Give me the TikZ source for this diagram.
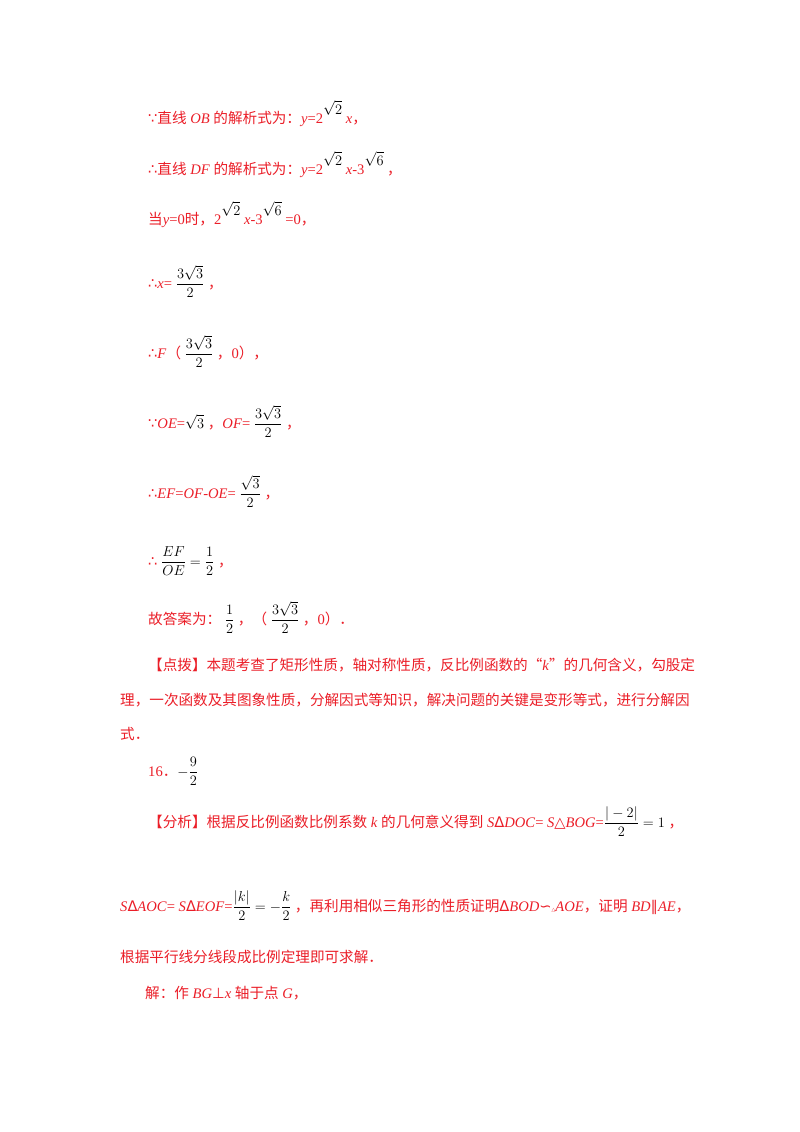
\documentclass[tikz,border=0pt]{standalone}
\usepackage{fontspec}
\setmainfont{Liberation Serif}
\newfontfamily\cjk{Noto Sans CJK SC}
\newfontfamily\djsym{DejaVu Sans}
\definecolor{rd}{RGB}{235,30,40}
\newcommand{\K}[1]{{\cjk #1}}
\newcommand{\Y}[1]{{\djsym #1}}
\newcommand{\B}[1]{\textcolor{black}{$\displaystyle #1$}}
\begin{document}
\begin{tikzpicture}[x=1pt,y=-1pt,t/.style={anchor=base west,inner sep=0,text=rd,font=\fontsize{14.6}{16}\selectfont}]
\useasboundingbox (0,0) rectangle (800,1132);
\fill[white] (0,0) rectangle (800,1132);
\node[t] (l1) at (148,123) {\Y{∵}\K{直线} \textit{OB} \K{的解析式为：}\textit{y}=2\raisebox{9pt}{\B{\sqrt2}} \textit{x}\K{，}};
\node[t] (l2) at (148,174) {\Y{∴}\K{直线} \textit{DF} \K{的解析式为：}\textit{y}=2\raisebox{9pt}{\B{\sqrt2}} \textit{x}-3\raisebox{9pt}{\B{\sqrt6}} \K{，}};
\node[t] (l3) at (148,224) {\K{当}\textit{y}=0\K{时，}2\raisebox{9pt}{\B{\sqrt2}} \textit{x}-3\raisebox{9pt}{\B{\sqrt6}} =0\K{，}};
\node[t] (l4) at (148,288) {\Y{∴}\textit{x}= \B{\frac{3\sqrt3}{2}} \K{，}};
\node[t] (l5) at (148,358) {\Y{∴}\textit{F}\K{（} \B{\frac{3\sqrt3}{2}} \K{，}0\K{），}};
\node[t] (l6) at (148,428) {\Y{∵}\textit{OE}=\B{\sqrt3} \K{，}\textit{OF}= \B{\frac{3\sqrt3}{2}} \K{，}};
\node[t] (l7) at (148,498) {\Y{∴}\textit{EF}=\textit{OF}-\textit{OE}= \B{\frac{\sqrt3}{2}} \K{，}};
\node[t] (l8) at (148,566) {\Y{∴} \B{\frac{EF}{OE}=\frac12} \K{，}};
\node[t] (l9) at (148,624) {\K{故答案为：} \B{\frac12} \K{，（} \B{\frac{3\sqrt3}{2}} \K{，}0\K{）．}};
\node[t] (l10) at (148,670) {\K{【点拨】本题考查了矩形性质，轴对称性质，反比例函数的“}\textit{k}\K{”的几何含义，勾股定}};
\node[t] (l11) at (120,705) {\K{理，一次函数及其图象性质，分解因式等知识，解决问题的关键是变形等式，进行分解因}};
\node[t] (l12) at (120,739) {\K{式．}};
\node[t] (l13) at (148,776) {16\K{．}\B{-\frac92}};
\node[t] (l14) at (148,827) {\K{【分析】根据反比例函数比例系数} \textit{k} \K{的几何意义得到} \textit{S}\Y{Δ}\textit{DOC}= \textit{S}\Y{△}\textit{BOG}=\B{\frac{|-2|}{2}=1} \K{，}};
\node[t] (l15) at (120,911) {\textit{S}\Y{Δ}\textit{AOC}= \textit{S}\Y{Δ}\textit{EOF}=\B{\frac{|k|}{2}=-\frac{k}{2}} \K{，再利用相似三角形的性质证明}\Y{Δ}\textit{BOD}\Y{∽{\tiny△}}\textit{AOE}\K{，证明} \textit{BD}\Y{∥}\textit{AE}\K{，}};
\node[t] (l16) at (120,962) {\K{根据平行线分线段成比例定理即可求解．}};
\node[t] (l17) at (145,998) {\K{解：作} \textit{BG}\Y{⊥}\textit{x} \K{轴于点} \textit{G}\K{，}};
\end{tikzpicture}
\end{document}
